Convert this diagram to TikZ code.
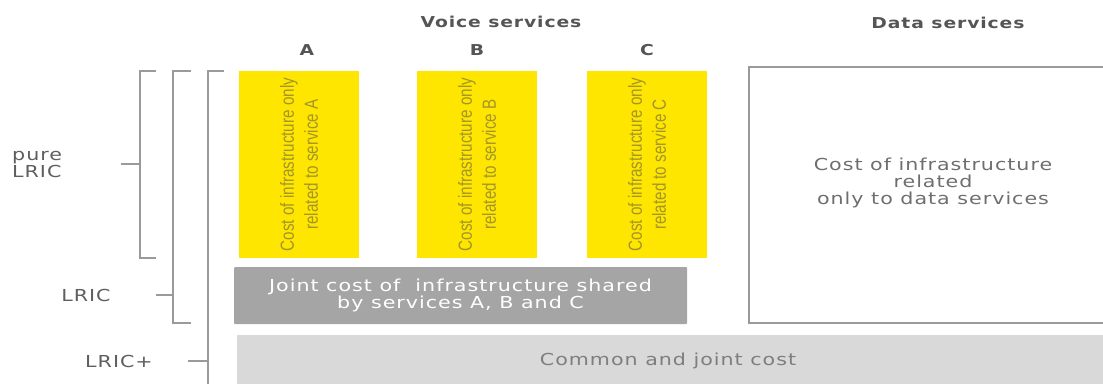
\documentclass[tikz,border=0pt]{standalone}
\usepackage{fontspec}
\setmainfont{DejaVu Sans}
\newfontfamily\widefont[FakeStretch=1.25,LetterSpace=6]{DejaVu Sans}
\newfontfamily\slimfont[FakeStretch=0.8]{Liberation Sans}

\definecolor{costyellow}{HTML}{FFE600}
\definecolor{yellowtext}{HTML}{A39528}
\definecolor{jointgray}{HTML}{A5A5A5}
\definecolor{commongray}{HTML}{D9D9D9}
\definecolor{linegray}{HTML}{9A9A9A}
\definecolor{labelgray}{HTML}{5E5E5E}

\begin{document}
\begin{tikzpicture}[x=1pt, y=-1pt,
    every node/.style={font=\widefont\fontsize{16.5}{17}\selectfont, text=labelgray, inner sep=0pt},
    header/.style={font=\widefont\bfseries\fontsize{15}{16}\selectfont, text=labelgray!90!black},
    yellowbox/.style={fill=costyellow, minimum width=120pt, minimum height=187pt},
    slimtext/.style={rotate=90, align=center, font=\slimfont\fontsize{19}{24}\selectfont, text=yellowtext},
    bracket/.style={draw=linegray, line width=1.5pt}]

    \useasboundingbox (0,0) rectangle (1103,383);
    \clip (0,0) rectangle (1103,383);

    % Titulos
    \node[header] (voice) at (501,22) {Voice services};
    \node[header] (data) at (948,23) {Data services};

    % Custos de cada servico de voz
    \foreach \s/\x/\hx in {A/299/307, B/477/477, C/647/647} {
        \node[yellowbox] (cost\s) at (\x,164.5) {};
        \node[slimtext] (text\s) at (cost\s) {Cost of infrastructure only\\related to service \s};
        \node[header] (head\s) at (\hx,50) {\s};
    }

    % Custo conjunto e custo comum
    \node[fill=jointgray, rounded corners=1pt, minimum width=453pt, minimum height=57pt,
          text=white, align=center] (joint) at (460.5,295.5)
          {Joint cost of\ \ infrastructure shared\\by services A, B and C};
    \node[fill=commongray, minimum width=866pt, minimum height=52pt] (common) at (670,361) {};
    \node[text=labelgray!80] (commontxt) at (668,361) {Common and joint cost};

    % Servicos de dados
    \node[draw=linegray, line width=1.2pt, minimum width=368pt, minimum height=256pt] (databox) at (933,195) {};
    \node[align=center, text=labelgray!90] (datatxt) at (933,183)
          {Cost of infrastructure\\related\\only to data services};

    % Chaves
    \draw[bracket] (156,71) -- (140,71) -- (140,258) -- (156,258);
    \draw[bracket] (121,164) -- (140,164);
    \draw[bracket] (191,71) -- (173,71) -- (173,323) -- (191,323);
    \draw[bracket] (156,295) -- (173,295);
    \draw[bracket] (224,71) -- (208,71) -- (208,390);
    \draw[bracket] (188,361) -- (208,361);

    % Rotulos
    \node[align=left, anchor=west] (pure) at (12,164) {pure\\LRIC};
    \node (lric) at (86,295) {LRIC};
    \node (lricplus) at (119,361) {LRIC+};
\end{tikzpicture}
\end{document}
